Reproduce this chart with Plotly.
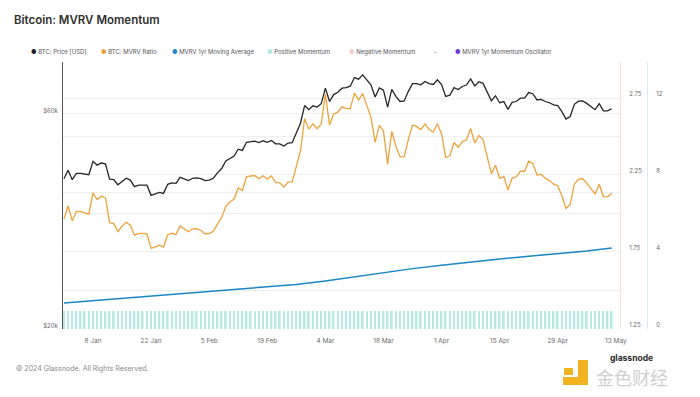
import math
import pandas as pd
import plotly.graph_objects as go

# ---------------- data ----------------
dates = pd.date_range("2024-01-01", "2024-05-12", freq="D")

btc_price = [
    43000, 44900, 42800, 44200, 44200, 44000, 43900, 47000, 46100, 46600,
    46400, 42900, 42800, 41700, 42500, 43100, 42700, 41300, 41600, 41600,
    41600, 39500, 39800, 40100, 39900, 41800, 42100, 42000, 43300, 42900,
    42600, 43100, 43200, 43000, 42600, 42700, 43100, 44300, 45300, 47100,
    47800, 48300, 50000, 49700, 51800, 52000, 52100, 51700, 52200, 51800,
    52300, 51400, 51400, 50800, 51600, 51700, 54500, 57100, 62500, 61200,
    62400, 62000, 63100, 68300, 63800, 66100, 66900, 68300, 68500, 69000,
    72100, 71500, 73100, 71400, 69400, 65300, 68400, 67600, 62000, 67900,
    65500, 63800, 64000, 67200, 69900, 69900, 69500, 70700, 69900, 69600,
    71300, 69600, 65500, 65900, 68500, 67800, 68900, 69400, 71600, 69100,
    70600, 70000, 67200, 64000, 65700, 63400, 63800, 61300, 63500, 63800,
    64900, 64900, 66800, 66400, 64300, 64500, 63800, 63400, 62700, 62500,
    60600, 58300, 59100, 62900, 63900, 64000, 63200, 62300, 61200, 63100,
    60800, 60800, 61500,
]

mvrv_ratio = [
    1.963, 2.048, 1.951, 2.013, 2.011, 2.000, 1.994, 2.133, 2.090, 2.111,
    2.100, 1.939, 1.933, 1.882, 1.917, 1.942, 1.923, 1.858, 1.870, 1.869,
    1.867, 1.771, 1.782, 1.792, 1.780, 1.861, 1.871, 1.863, 1.918, 1.897,
    1.880, 1.899, 1.900, 1.888, 1.867, 1.868, 1.882, 1.931, 1.971, 2.046,
    2.074, 2.093, 2.165, 2.149, 2.237, 2.243, 2.245, 2.225, 2.244, 2.224,
    2.243, 2.202, 2.199, 2.171, 2.203, 2.205, 2.310, 2.406, 2.617, 2.548,
    2.583, 2.551, 2.581, 2.776, 2.574, 2.646, 2.658, 2.693, 2.682, 2.682,
    2.782, 2.738, 2.779, 2.708, 2.625, 2.462, 2.572, 2.536, 2.319, 2.534,
    2.437, 2.367, 2.369, 2.481, 2.574, 2.566, 2.545, 2.582, 2.546, 2.529,
    2.583, 2.516, 2.364, 2.373, 2.461, 2.431, 2.466, 2.479, 2.552, 2.458,
    2.506, 2.480, 2.375, 2.258, 2.313, 2.228, 2.241, 2.152, 2.228, 2.238,
    2.275, 2.274, 2.339, 2.324, 2.249, 2.254, 2.229, 2.214, 2.190, 2.180,
    2.113, 2.031, 2.059, 2.189, 2.223, 2.225, 2.197, 2.164, 2.125, 2.189,
    2.109, 2.107, 2.131,
]

ma_dates = [
    "2024-01-01", "2024-01-08", "2024-01-15", "2024-01-22", "2024-01-29",
    "2024-02-05", "2024-02-12", "2024-02-19", "2024-02-26", "2024-03-04",
    "2024-03-11", "2024-03-18", "2024-03-25", "2024-04-01", "2024-04-08",
    "2024-04-15", "2024-04-22", "2024-04-29", "2024-05-06", "2024-05-12",
]
mvrv_1yr_ma = [
    1.417, 1.432, 1.447, 1.461, 1.475, 1.490, 1.505, 1.521, 1.537, 1.560,
    1.587, 1.614, 1.640, 1.662, 1.683, 1.702, 1.720, 1.737, 1.755, 1.775,
]

positive_momentum = [
    1, 1, 1, 1, 1, 1, 1, 1, 1, 1, 1, 1, 1, 1, 1, 1, 1, 1, 1, 1,
    1, 1, 1, 1, 1, 1, 1, 1, 1, 1, 1, 1, 1, 1, 1, 1, 1, 1, 1, 1,
    1, 1, 1, 1, 1, 1, 1, 1, 1, 1, 1, 1, 1, 1, 1, 1, 1, 1, 1, 1,
    1, 1, 1, 1, 1, 1, 1, 1, 1, 1, 1, 1, 1, 1, 1, 1, 1, 1, 1, 1,
    1, 1, 1, 1, 1, 1, 1, 1, 1, 1, 1, 1, 1, 1, 1, 1, 1, 1, 1, 1,
    1, 1, 1, 1, 1, 1, 1, 1, 1, 1, 1, 1, 1, 1, 1, 1, 1, 1, 1, 1,
    1, 1, 1, 1, 1, 1, 1, 1, 1, 1, 1, 1, 1,
]
momentum_oscillator = []   # not drawn in the reference view (axis only)

x_tick_dates = ["2024-01-08", "2024-01-22", "2024-02-05", "2024-02-19", "2024-03-04",
                "2024-03-18", "2024-04-01", "2024-04-15", "2024-04-29", "2024-05-13"]
x_tick_labels = ["8 Jan", "22 Jan", "5 Feb", "19 Feb", "4 Mar",
                 "18 Mar", "1 Apr", "15 Apr", "29 Apr", "13 May"]

price_ticks = [20000, 40000, 60000]
price_tick_labels = ["$20k", "", "$60k"]
mvrv_ticks = [1.25, 1.75, 2.25, 2.75]
mvrv_tick_labels = ["1.25", "1.75", "2.25", "2.75"]
osc_ticks = [0, 4, 8, 12]
osc_tick_labels = ["0", "4", "8", "12"]

legend_names = ["BTC: Price [USD]", "BTC: MVRV Ratio", "MVRV 1yr Moving Average",
                "Positive Momentum", "Negative Momentum", "-", "MVRV 1yr Momentum Oscillator"]
legend_colors = ["#1c1c1c", "#ee9f35", "#1b86c4", "#b4e9df", "#f6cdd3", None, "#6a3ad2"]

# ---------------- styling / layout ----------------
W, H = 700, 397
L, R, T, B = 63, 28, 62, 68
PW = W - L - R          # paper width in px
PH = H - T - B          # plot height in px
PLOT_RIGHT = 620
X_END = (PLOT_RIGHT - L) / PW

def px_x(px):
    return (px - L) / PW

def px_y(py):
    return (H - B - py) / PH

FONT = "Inter"
GRID = "#eeeeee"
TICKFONT = dict(family=FONT, size=6, color="#6b6b6b")

fig = go.Figure()

fig.add_trace(go.Bar(
    x=dates, y=positive_momentum, yaxis="y4", name="Positive Momentum",
    marker=dict(color="#b7ebe1", line=dict(width=0)), hoverinfo="skip",
))
fig.add_trace(go.Scatter(
    x=dates, y=btc_price, yaxis="y", mode="lines", name="BTC: Price [USD]",
    line=dict(color="#262626", width=1.3),
))
fig.add_trace(go.Scatter(
    x=dates, y=mvrv_ratio, yaxis="y2", mode="lines", name="BTC: MVRV Ratio",
    line=dict(color="#eea23c", width=1.3),
))
fig.add_trace(go.Scatter(
    x=ma_dates, y=mvrv_1yr_ma, yaxis="y2", mode="lines", name="MVRV 1yr Moving Average",
    line=dict(color="#1b86c4", width=1.5),
))
fig.add_trace(go.Scatter(
    x=dates[:len(momentum_oscillator)], y=momentum_oscillator, yaxis="y3", mode="lines",
    name="MVRV 1yr Momentum Oscillator", line=dict(color="#6a3ad2", width=1.2),
))

fig.update_layout(
    width=W, height=H,
    margin=dict(l=L, r=R, t=T, b=B, pad=0),
    paper_bgcolor="white", plot_bgcolor="white",
    showlegend=False,
    bargap=0.6,
    font=dict(family=FONT, size=6, color="#666"),
    title=dict(
        text="Bitcoin: MVRV Momentum",
        x=14 / W, xref="container", xanchor="left",
        y=1 - 20 / H, yref="container", yanchor="middle",
        font=dict(family=FONT, size=11.5, color="#2f2f2f", weight=600),
    ),
    xaxis=dict(
        domain=[0, X_END], type="date",
        range=["2023-12-31 18:30", "2024-05-14 00:00"],
        tickvals=x_tick_dates, ticktext=x_tick_labels,
        showgrid=False, showline=False, zeroline=False,
        ticks="outside", ticklen=5, tickcolor="rgba(0,0,0,0)",
        tickfont=dict(family=FONT, size=6.5, color="#6b6b6b"),
    ),
    yaxis=dict(
        type="log", range=[4.3, 4.8925],
        tickvals=price_ticks, ticktext=price_tick_labels,
        showline=True, linecolor="#555555", linewidth=1,
        showgrid=True, gridcolor=GRID, zeroline=False,
        ticks="outside", ticklen=3, tickcolor="rgba(0,0,0,0)",
        ticklabelshift=-3,
        tickfont=TICKFONT,
    ),
    yaxis2=dict(
        overlaying="y", side="right", anchor="x",
        range=[1.247, 2.985],
        tickvals=mvrv_ticks, ticktext=mvrv_tick_labels,
        showline=True, linecolor="#f3e6cf", linewidth=1,
        showgrid=True, gridcolor=GRID, zeroline=False,
        minor=dict(tick0=1.25, dtick=0.25, showgrid=True, gridcolor=GRID, ticks=""),
        ticks="outside", ticklen=7, tickcolor="rgba(0,0,0,0)",
        ticklabelshift=-4,
        tickfont=TICKFONT,
    ),
    yaxis3=dict(
        overlaying="y", side="right", anchor="free",
        position=px_x(647),
        range=[-0.03, 13.86],
        tickvals=osc_ticks, ticktext=osc_tick_labels,
        showline=True, linecolor="#d3f1eb", linewidth=1,
        showgrid=False, zeroline=False,
        ticks="outside", ticklen=7, tickcolor="rgba(0,0,0,0)",
        ticklabelshift=-4,
        tickfont=TICKFONT,
    ),
    yaxis4=dict(overlaying="y", visible=False, range=[0, 14.8]),
)

# legend row (as text items)
legend_px = [29, 99, 170, 265, 347, 432, 453]
annotations = []
for name, color, px in zip(legend_names, legend_colors, legend_px):
    if color is None:
        text = name
    else:
        text = f"<span style='color:{color}'>●</span> {name}"
    annotations.append(dict(
        text=text, x=px_x(px), y=px_y(52), xref="paper", yref="paper",
        xanchor="left", yanchor="middle", showarrow=False,
        font=dict(family=FONT, size=6, color="#555"),
    ))

annotations.append(dict(
    text="© 2024 Glassnode. All Rights Reserved.",
    x=px_x(14), y=px_y(368), xref="paper", yref="paper",
    xanchor="left", yanchor="middle", showarrow=False,
    font=dict(family=FONT, size=7, color="#8a8a8a"),
))
annotations.append(dict(
    text="金色财经", x=px_x(594), y=px_y(377), xref="paper", yref="paper",
    xanchor="left", yanchor="middle", showarrow=False,
    font=dict(family="Noto Sans CJK SC", size=18, color="#cfcfcf"),
))
annotations.append(dict(
    text="<b>glassnode</b>", x=px_x(608), y=px_y(358), xref="paper", yref="paper",
    xanchor="left", yanchor="middle", showarrow=False,
    font=dict(family=FONT, size=8.5, color="#2a2a2a"),
))
fig.update_layout(annotations=annotations)

# watermark logo blocks
logo_color = "#f2b322"
for x0, x1, y0, y1 in [(578, 588, 360, 385), (563, 588, 377, 385), (564, 573, 368, 375)]:
    fig.add_shape(type="rect", xref="paper", yref="paper",
                  x0=px_x(x0), x1=px_x(x1), y0=px_y(y1), y1=px_y(y0),
                  fillcolor=logo_color, line=dict(width=0), layer="above")

fig.write_html(
    "out.html",
    config={"displayModeBar": False},
    post_script="document.body.style.margin='0';",
)
